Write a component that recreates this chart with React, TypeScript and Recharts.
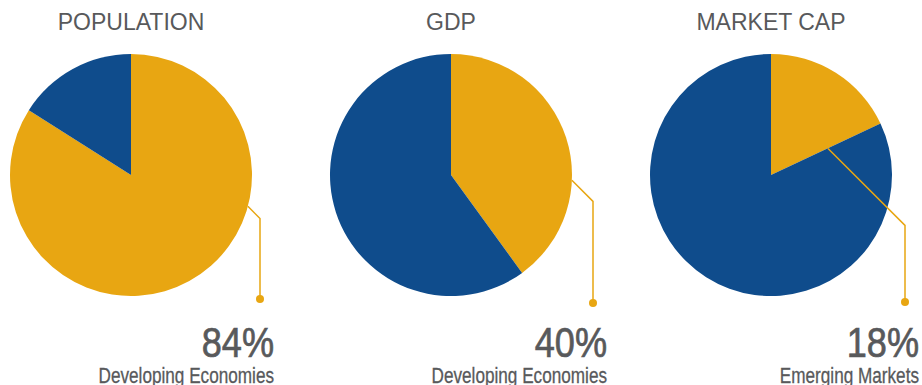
import { Pie, PieChart, Cell } from 'recharts';

// shares, in percent
const pieTitles = ['POPULATION', 'GDP', 'MARKET CAP'];
const emergingShares = [84, 40, 18];
const developedShares = [16, 60, 82];
const shareLabels = ['Developing Economies', 'Developing Economies', 'Emerging Markets'];

// where each leader line leaves the pie (angle in degrees, counter-clockwise from 3 o'clock)
const anchorAngles = [-15, -2.5, 25];
const anchorRadii = [1, 1, 0.52];
const leaderOffsets = [129, 142, 134];
const dotOffsets = [124, 128, 127];

const centersX = [131, 451, 771];
const CY = 175;
const RADIUS = 121;

const GOLD = '#e8a612';
const BLUE = '#0f4c8c';
const INK = '#58595b';
const SANS = "'Liberation Sans', Arial, sans-serif";

function makeLabel(i: number) {
  return (props: any) => {
    if (props.index !== 0) return null;
    const { cx, cy, outerRadius } = props;
    const rad = (anchorAngles[i] * Math.PI) / 180;
    const ax = cx + Math.cos(rad) * outerRadius * anchorRadii[i];
    const ay = cy - Math.sin(rad) * outerRadius * anchorRadii[i];
    const lx = cx + leaderOffsets[i];
    const ey = ay + (lx - ax);
    const dy = cy + dotOffsets[i];
    const tx = lx + 14;
    return (
      <g>
        <text x={cx} y={30} textAnchor="middle" fontSize={23} fill={INK} fontFamily={SANS}>
          {pieTitles[i]}
        </text>
        <polyline points={`${ax},${ay} ${lx},${ey} ${lx},${dy}`} fill="none" stroke={GOLD} strokeWidth={1.5} />
        <circle cx={lx} cy={dy} r={4} fill={GOLD} />
        {/* no condensed face installed, so squeeze Arial horizontally and thicken it a little */}
        <text
          transform={`translate(${tx},357) scale(0.86,1)`}
          textAnchor="end"
          fontSize={42}
          fill={INK}
          stroke={INK}
          strokeWidth={0.7}
          fontFamily={SANS}
        >
          {emergingShares[i]}%
        </text>
        <text
          transform={`translate(${tx},383) scale(0.78,1)`}
          textAnchor="end"
          fontSize={22}
          fill={INK}
          stroke={INK}
          strokeWidth={0.3}
          fontFamily={SANS}
        >
          {shareLabels[i]}
        </text>
      </g>
    );
  };
}

export default function App() {
  return (
    <div style={{ position: 'absolute', left: 0, top: 0, width: 922, height: 385, overflow: 'hidden', background: '#fff' }}>
      <PieChart width={922} height={385} margin={{ top: 0, right: 0, bottom: 0, left: 0 }}>
        {pieTitles.map((title, i) => (
          <Pie
            key={title}
            data={[
              { name: shareLabels[i], value: emergingShares[i] },
              { name: 'Developed', value: developedShares[i] },
            ]}
            dataKey="value"
            cx={centersX[i]}
            cy={CY}
            outerRadius={RADIUS}
            startAngle={90}
            endAngle={-270}
            stroke="none"
            label={makeLabel(i)}
            labelLine={false}
            isAnimationActive={false}
          >
            <Cell fill={GOLD} />
            <Cell fill={BLUE} />
          </Pie>
        ))}
      </PieChart>
    </div>
  );
}
